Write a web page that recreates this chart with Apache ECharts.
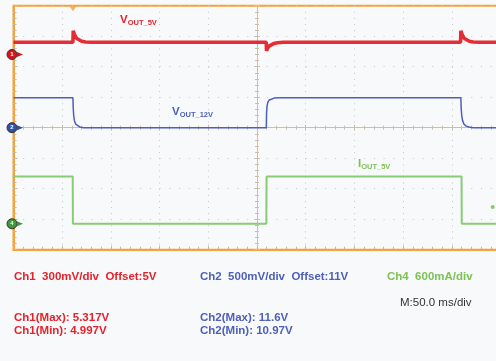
<!DOCTYPE html>
<html><head><meta charset="utf-8">
<script src="https://cdn.jsdelivr.net/npm/echarts@6/dist/echarts.min.js"></script>
<style>html,body{margin:0;padding:0;background:#f8f9fb}#c{width:496px;height:361px}</style>
</head><body><div id="c"></div>
<script>
// Time base: 50 ms/div, 10 divisions
const timeRange = [0, 500];
const timeInterval = 50;
// Vertical graticule: 8 divisions
const divRange = [-4, 4];

// Channel settings: [volts or amps per div, offset, marker position in div]
const ch1Setting = [0.3, 5, 2.4];
const ch2Setting = [0.5, 11, 0];
const ch4Setting = [0.6, 0, -3.15];

// Ch1 VOUT_5V (V) vs time (ms)
const ch1Wave = [[0,5.12],[61,5.12],[61.3,5.234],[62.3,5.205],[63.5,5.178],[65,5.158],[67,5.142],[70,5.13],[74,5.123],[80,5.12],
  [259.5,5.12],[259.8,5.035],[260.8,5.06],[262,5.08],[264,5.095],[267,5.107],[271,5.115],[277,5.12],
  [459,5.12],[459.3,5.234],[460.3,5.205],[461.5,5.178],[463,5.158],[465,5.142],[468,5.13],[472,5.123],[478,5.12],[500,5.12]];
// Ch2 VOUT_12V (V)
const ch2Wave = [[0,11.49],[61,11.49],[61.3,11.33],[61.8,11.2],[62.5,11.12],[63.8,11.06],[65.5,11.03],[68,11.012],[72,11.0],
  [259.6,11.0],[259.8,11.24],[260.3,11.35],[261,11.41],[262.3,11.45],[264.3,11.472],[267.5,11.485],[272,11.49],
  [459.3,11.49],[459.6,11.33],[460.2,11.2],[461,11.12],[462.4,11.06],[464.5,11.03],[467.5,11.012],[472,11.0],[500,11.0]];
// Ch4 IOUT_5V (A)
const ch4Wave = [[0,0.93],[60.8,0.93],[61,0],[259.6,0],[259.8,0.93],[460,0.93],[460.2,0],[500,0]];
// Trigger time (ms) and trigger level marker on Ch4
const triggerTime = [61];
const ch4LevelMark = [[492, 0.33]];

const chNames = ['1', '2', '4'];
const legendRow1 = ['Ch1  300mV/div  Offset:5V', 'Ch2  500mV/div  Offset:11V', 'Ch4  600mA/div'];
const timebaseText = 'M:50.0 ms/div';
const measRows = [['Ch1(Max): 5.317V', 'Ch1(Min): 4.997V'], ['Ch2(Max): 11.6V', 'Ch2(Min): 10.97V']];

const RED = '#e5222b', BLUE = '#4d5fb8', GREEN = '#88cc76', GREENT = '#7cc152', ORANGE = '#f3a23c';
const FONT = '"Liberation Sans", Arial, sans-serif';

function chAxis(s) {
  return {type:'value', show:false, min: s[1] - (4 + s[2]) * s[0], max: s[1] + (4 - s[2]) * s[0],
    axisLine:{onZero:false}, splitLine:{show:false}};
}
function marker(coordVal, color, name) {
  return [
    {coord:[0, coordVal], symbol:'circle', symbolSize:10, symbolOffset:[-1.5,0],
      itemStyle:{color:color, borderColor:'#333', borderWidth:1},
      label:{show:true, formatter:name, color:'#fff', fontSize:6, fontFamily:FONT, fontWeight:'bold', position:'inside'}},
    {coord:[0, coordVal], symbol:'triangle', symbolSize:[5,6], symbolRotate:-90, symbolOffset:[6.5,0],
      itemStyle:{color:color}, label:{show:false}}
  ];
}

const chart = echarts.init(document.getElementById('c'), null, {renderer:'canvas'});
const gridDot = '#c5c7cc';
const centerCol = '#cdbfa6';

chart.setOption({
  backgroundColor:'#f8f9fb',
  animation:false,
  grid:{left:13.5, top:5.7, width:487, height:244, outerBoundsMode:'none', containLabel:false,
    show:true, borderColor:ORANGE, borderWidth:2, backgroundColor:'#f8f9fb'},
  xAxis:[
    {type:'value', min:timeRange[0], max:timeRange[1], interval:timeInterval, position:'bottom',
      axisLine:{onZero:false, lineStyle:{color:ORANGE, width:2}},
      axisTick:{show:true, inside:true, length:4, lineStyle:{color:'#c8b79a'}},
      minorTick:{show:true, splitNumber:5, length:3, lineStyle:{color:'#c8b79a'}},
      axisLabel:{show:false},
      splitLine:{show:true, lineStyle:{color:gridDot, width:1, type:[1,5.1]}}},
    {type:'value', min:timeRange[0], max:timeRange[1], interval:timeInterval, position:'bottom',
      axisLine:{onZero:true, onZeroAxisIndex:0, lineStyle:{color:centerCol, width:1}},
      axisTick:{show:true, inside:true, length:3, lineStyle:{color:centerCol}},
      minorTick:{show:true, splitNumber:5, length:2, lineStyle:{color:centerCol}},
      axisLabel:{show:false}, splitLine:{show:false}},
    {type:'value', min:timeRange[0], max:timeRange[1], interval:timeInterval, position:'bottom',
      axisLine:{onZero:true, onZeroAxisIndex:0, lineStyle:{color:centerCol, width:1}},
      axisTick:{show:true, inside:false, length:3, lineStyle:{color:centerCol}},
      minorTick:{show:true, splitNumber:5, length:2, lineStyle:{color:centerCol}},
      axisLabel:{show:false}, splitLine:{show:false}},
    {type:'value', show:false, min:-5, max:5, axisLine:{onZero:false}, splitLine:{show:false}}
  ],
  yAxis:[
    {type:'value', min:divRange[0], max:divRange[1], interval:1, position:'left',
      axisLine:{onZero:false, lineStyle:{color:ORANGE, width:2}},
      axisTick:{show:true, inside:true, length:4, lineStyle:{color:'#c8b79a'}},
      minorTick:{show:true, splitNumber:5, length:3, lineStyle:{color:'#c8b79a'}},
      axisLabel:{show:false},
      splitLine:{show:true, lineStyle:{color:gridDot, width:1, type:[1,8.74]}}},
    {type:'value', min:divRange[0], max:divRange[1], interval:1, position:'left',
      axisLine:{onZero:true, onZeroAxisIndex:3, lineStyle:{color:centerCol, width:1}},
      axisTick:{show:true, inside:true, length:3, lineStyle:{color:centerCol}},
      minorTick:{show:true, splitNumber:5, length:2, lineStyle:{color:centerCol}},
      axisLabel:{show:false}, splitLine:{show:false}},
    {type:'value', min:divRange[0], max:divRange[1], interval:1, position:'left',
      axisLine:{onZero:true, onZeroAxisIndex:3, lineStyle:{color:centerCol, width:1}},
      axisTick:{show:true, inside:false, length:3, lineStyle:{color:centerCol}},
      minorTick:{show:true, splitNumber:5, length:2, lineStyle:{color:centerCol}},
      axisLabel:{show:false}, splitLine:{show:false}},
    chAxis(ch1Setting), chAxis(ch2Setting), chAxis(ch4Setting)
  ],
  series:[
    {type:'line', name:'Ch4', xAxisIndex:0, yAxisIndex:5, data:ch4Wave, showSymbol:false, symbol:'none',
      lineStyle:{color:GREEN, width:2}, markPoint:{data:marker(ch4Setting[1], '#3e9a34', chNames[2])}},
    {type:'line', name:'Ch2', xAxisIndex:0, yAxisIndex:4, data:ch2Wave, showSymbol:false, symbol:'none',
      lineStyle:{color:BLUE, width:1.5}, markPoint:{data:marker(ch2Setting[1], '#2f4fa8', chNames[1])}},
    {type:'line', name:'Ch1', xAxisIndex:0, yAxisIndex:3, data:ch1Wave, showSymbol:false, symbol:'none',
      lineStyle:{color:RED, width:3.6, opacity:0.95}, markPoint:{data:marker(ch1Setting[1], '#d8141c', chNames[0])}},
    {type:'scatter', name:'trig', xAxisIndex:0, yAxisIndex:0, data:triggerTime.map(t => [t, divRange[1]]),
      symbol:'triangle', symbolSize:[7,5], symbolRotate:180, symbolOffset:[0,3], itemStyle:{color:ORANGE}},
    {type:'scatter', name:'lvl', xAxisIndex:0, yAxisIndex:5, data:ch4LevelMark,
      symbol:'circle', symbolSize:4, itemStyle:{color:'#6cbf4a'}}
  ],
  graphic:[
    {type:'text', x:120, y:20, style:{text:'{a|V}{b|OUT_5V}', fill:RED, verticalAlign:'middle',
      rich:{a:{fontSize:11.5, fontWeight:'bold', fontFamily:FONT, fill:RED, verticalAlign:'bottom'},
            b:{fontSize:7.5, fontWeight:'bold', fontFamily:FONT, fill:RED, verticalAlign:'bottom', padding:[0,0,-1,0]}}}},
    {type:'text', x:172, y:112, style:{text:'{a|V}{b|OUT_12V}', fill:BLUE, verticalAlign:'middle',
      rich:{a:{fontSize:11.5, fontWeight:'bold', fontFamily:FONT, fill:BLUE, verticalAlign:'bottom'},
            b:{fontSize:7.5, fontWeight:'bold', fontFamily:FONT, fill:BLUE, verticalAlign:'bottom', padding:[0,0,-1,0]}}}},
    {type:'text', x:358, y:164, style:{text:'{a|I}{b|OUT_5V}', fill:GREENT, verticalAlign:'middle',
      rich:{a:{fontSize:11.5, fontWeight:'bold', fontFamily:FONT, fill:GREENT, verticalAlign:'bottom'},
            b:{fontSize:7.5, fontWeight:'bold', fontFamily:FONT, fill:GREENT, verticalAlign:'bottom', padding:[0,0,-1,0]}}}},
    {type:'text', x:14, y:277, style:{text:legendRow1[0], fill:RED, font:'bold 11.5px '+FONT, verticalAlign:'middle'}},
    {type:'text', x:200, y:277, style:{text:legendRow1[1], fill:BLUE, font:'bold 11.5px '+FONT, verticalAlign:'middle'}},
    {type:'text', x:387, y:277, style:{text:legendRow1[2], fill:GREENT, font:'bold 11.5px '+FONT, verticalAlign:'middle'}},
    {type:'text', x:400, y:303, style:{text:timebaseText, fill:'#333', font:'11.5px '+FONT, verticalAlign:'middle'}},
    {type:'text', x:14, y:317.5, style:{text:measRows[0][0], fill:RED, font:'bold 11.5px '+FONT, verticalAlign:'middle'}},
    {type:'text', x:14, y:331, style:{text:measRows[0][1], fill:RED, font:'bold 11.5px '+FONT, verticalAlign:'middle'}},
    {type:'text', x:200, y:317.5, style:{text:measRows[1][0], fill:BLUE, font:'bold 11.5px '+FONT, verticalAlign:'middle'}},
    {type:'text', x:200, y:331, style:{text:measRows[1][1], fill:BLUE, font:'bold 11.5px '+FONT, verticalAlign:'middle'}}
  ]
});
</script></body></html>
